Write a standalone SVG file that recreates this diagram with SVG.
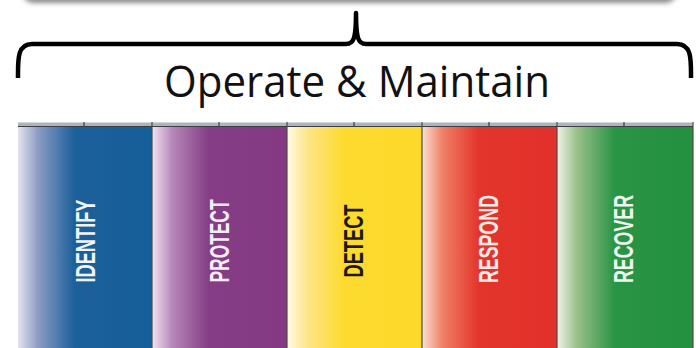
<svg xmlns="http://www.w3.org/2000/svg" width="696" height="348" viewBox="0 0 696 348">
<defs>
<filter id="blur" x="-10%" y="-100%" width="120%" height="300%"><feGaussianBlur stdDeviation="2.5"/></filter>
<linearGradient id="gB" x1="0" x2="1" y1="0" y2="0"><stop offset="0" stop-color="#e2e4f0"/><stop offset="0.15" stop-color="#8b9cc4"/><stop offset="0.42" stop-color="#1c609a"/><stop offset="1" stop-color="#155f98"/></linearGradient>
<linearGradient id="gP" x1="0" x2="1" y1="0" y2="0"><stop offset="0" stop-color="#f3e3f2"/><stop offset="0.15" stop-color="#b688b8"/><stop offset="0.42" stop-color="#853d85"/><stop offset="1" stop-color="#843a82"/></linearGradient>
<linearGradient id="gY" x1="0" x2="1" y1="0" y2="0"><stop offset="0" stop-color="#fffbe3"/><stop offset="0.15" stop-color="#fde58a"/><stop offset="0.42" stop-color="#fdda2e"/><stop offset="1" stop-color="#fcd92a"/></linearGradient>
<linearGradient id="gR" x1="0" x2="1" y1="0" y2="0"><stop offset="0" stop-color="#fce0d2"/><stop offset="0.15" stop-color="#f08066"/><stop offset="0.42" stop-color="#e3352b"/><stop offset="1" stop-color="#e2302a"/></linearGradient>
<linearGradient id="gG" x1="0" x2="1" y1="0" y2="0"><stop offset="0" stop-color="#eef3e6"/><stop offset="0.15" stop-color="#98bf88"/><stop offset="0.42" stop-color="#2a9545"/><stop offset="1" stop-color="#22903e"/></linearGradient>
</defs>
<style>
.lbl{font-family:"Liberation Sans",Arial,sans-serif;font-weight:bold;font-size:28px;text-anchor:middle;dominant-baseline:central}
.sep{stroke:#4a4a4a;stroke-width:1.2}
.tick{stroke:#3a3f45;stroke-width:1.2}
</style>
<rect x="22" y="-22" width="655" height="25" rx="12" fill="#8a8a8a" filter="url(#blur)"/>
<rect x="0" y="-30" width="696" height="28" fill="#fff"/>
<g id="brace">
<path d="M18,78 C18,60 17,44 32,44 L346,44 C354,44 356,38 356,13 C356,38 358,44 366,44 L677,44 C692,44 691,60 691,78" fill="none" stroke="#000" stroke-width="4.5" stroke-linejoin="round"/>
<text x="357" y="97" font-family="'Open Sans','Liberation Sans',sans-serif" font-size="43" fill="#111" text-anchor="middle" textLength="386" lengthAdjust="spacingAndGlyphs">Operate &amp; Maintain</text>
</g>
<g id="strip">
<rect x="18" y="122.5" width="675" height="4" fill="#aeb4ba"/>
<line x1="18" y1="126.5" x2="693" y2="126.5" stroke="#3c4046" stroke-width="1.2"/>
</g>
<g id="identify">
<rect x="18" y="127" width="134" height="221" fill="url(#gB)"/>
<text class="lbl" fill="#f2f4f8" transform="translate(85,241) rotate(-90)" textLength="83" lengthAdjust="spacingAndGlyphs">IDENTIFY</text>
</g>
<g id="protect">
<rect x="152" y="127" width="135" height="221" fill="url(#gP)"/>
<text class="lbl" fill="#f4eef4" transform="translate(219,241) rotate(-90)" textLength="83" lengthAdjust="spacingAndGlyphs">PROTECT</text>
</g>
<g id="detect">
<rect x="287" y="127" width="135" height="221" fill="url(#gY)"/>
<text class="lbl" fill="#1e1a10" transform="translate(353,241) rotate(-90)" textLength="73" lengthAdjust="spacingAndGlyphs">DETECT</text>
</g>
<g id="respond">
<rect x="422" y="127" width="135" height="221" fill="url(#gR)"/>
<text class="lbl" fill="#f8ecea" transform="translate(488,239) rotate(-90)" textLength="88" lengthAdjust="spacingAndGlyphs">RESPOND</text>
</g>
<g id="recover">
<rect x="557" y="127" width="136" height="221" fill="url(#gG)"/>
<text class="lbl" fill="#eef5ee" transform="translate(623,239) rotate(-90)" textLength="88" lengthAdjust="spacingAndGlyphs">RECOVER</text>
</g>
<g id="connectors">
<line class="sep" x1="152" y1="122" x2="152" y2="348"/>
<line class="sep" x1="287" y1="122" x2="287" y2="348"/>
<line class="sep" x1="422" y1="122" x2="422" y2="348"/>
<line class="sep" x1="557" y1="122" x2="557" y2="348"/>
<line class="sep" x1="693" y1="122" x2="693" y2="348"/>
<line class="tick" x1="84" y1="122" x2="84" y2="127"/>
<line class="tick" x1="219" y1="122" x2="219" y2="127"/>
<line class="tick" x1="354" y1="122" x2="354" y2="127"/>
<line class="tick" x1="489" y1="122" x2="489" y2="127"/>
<line class="tick" x1="624" y1="122" x2="624" y2="127"/>
</g>
</svg>
